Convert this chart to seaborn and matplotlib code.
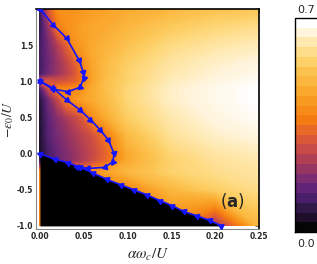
import numpy as np
import matplotlib
matplotlib.use('Agg')
import matplotlib.pyplot as plt
import seaborn as sns
import pandas as pd
from matplotlib.colors import ListedColormap, LinearSegmentedColormap, Normalize
from matplotlib.cm import ScalarMappable

# heat map values (0 .. 0.7)
x_grid = [0.0, 0.01, 0.02, 0.03, 0.04, 0.05, 0.06, 0.075, 0.1, 0.15, 0.2, 0.25]
y_grid = [-1.0, -0.5, -0.25, -0.1, 0.0, 0.25, 0.5, 0.75, 0.9, 1.0, 1.1, 1.25, 1.5, 1.75, 2.0]
z_rows = [
    [0.38, 0.38, 0.38, 0.38, 0.38, 0.38, 0.38, 0.38, 0.38, 0.38, 0.20, 0.50],  # -1.0
    [0.38, 0.38, 0.38, 0.38, 0.38, 0.38, 0.38, 0.38, 0.38, 0.50, 0.56, 0.60],  # -0.5
    [0.38, 0.38, 0.38, 0.38, 0.38, 0.38, 0.40, 0.45, 0.50, 0.57, 0.60, 0.62],  # -0.25
    [0.08, 0.10, 0.14, 0.17, 0.20, 0.23, 0.27, 0.33, 0.47, 0.57, 0.61, 0.63],  # -0.1
    [0.03, 0.10, 0.14, 0.17, 0.20, 0.23, 0.26, 0.32, 0.47, 0.58, 0.62, 0.64],  # 0.0
    [0.04, 0.12, 0.16, 0.19, 0.22, 0.25, 0.28, 0.36, 0.51, 0.61, 0.65, 0.67],  # 0.25
    [0.04, 0.13, 0.18, 0.22, 0.26, 0.31, 0.40, 0.47, 0.56, 0.63, 0.67, 0.69],  # 0.5
    [0.05, 0.16, 0.26, 0.38, 0.42, 0.45, 0.47, 0.51, 0.58, 0.65, 0.68, 0.70],  # 0.75
    [0.10, 0.28, 0.38, 0.39, 0.40, 0.42, 0.47, 0.52, 0.58, 0.65, 0.68, 0.70],  # 0.9
    [0.28, 0.30, 0.28, 0.29, 0.32, 0.37, 0.45, 0.52, 0.57, 0.64, 0.67, 0.69],  # 1.0
    [0.09, 0.16, 0.20, 0.24, 0.29, 0.38, 0.45, 0.51, 0.57, 0.63, 0.66, 0.68],  # 1.1
    [0.09, 0.15, 0.20, 0.25, 0.31, 0.40, 0.46, 0.51, 0.56, 0.62, 0.65, 0.67],  # 1.25
    [0.09, 0.16, 0.23, 0.31, 0.41, 0.44, 0.47, 0.49, 0.53, 0.59, 0.62, 0.64],  # 1.5
    [0.07, 0.20, 0.36, 0.41, 0.43, 0.45, 0.46, 0.47, 0.50, 0.55, 0.58, 0.60],  # 1.75
    [0.07, 0.30, 0.40, 0.42, 0.42, 0.43, 0.44, 0.45, 0.47, 0.50, 0.53, 0.54],  # 2.0
]

# blue curves
upper_x = [0.0, 0.0152, 0.0305, 0.0445, 0.0495, 0.050, 0.0457, 0.0323, 0.0152, 0.0]
upper_y = [2.0, 1.78, 1.595, 1.295, 1.13, 1.04, 0.918, 0.857, 0.89, 1.0]
lower_x = [0.0, 0.0152, 0.0305, 0.0457, 0.0576, 0.0685, 0.078, 0.0845, 0.0834, 0.074, 0.055, 0.042]
lower_y = [1.0, 0.904, 0.742, 0.604, 0.47, 0.33, 0.19, 0.005, -0.11, -0.19, -0.205, -0.18]
bound_x = [0.207, 0.194, 0.179, 0.164, 0.151, 0.137, 0.122, 0.107, 0.092, 0.076, 0.061, 0.046, 0.032, 0.0167, 0.0]
bound_y = [-1.0, -0.925, -0.86, -0.80, -0.72, -0.65, -0.57, -0.50, -0.43, -0.355, -0.27, -0.19, -0.125, -0.077, 0.0]

cb_colors = ['#050505', '#1e0e2a', '#301848', '#4a1e68', '#622476', '#7c2c70',
             '#963462', '#b03e54', '#c84a46', '#da5838', '#e86828', '#f47a12',
             '#f78a18', '#f99a20', '#faa82e', '#fbb63e', '#fcc250', '#fdd068',
             '#fedd8a', '#ffe9b0', '#fff4dc', '#ffffff']

sns.set_style('white')
plt.rcParams['mathtext.fontset'] = 'stix'

smooth_cmap = LinearSegmentedColormap.from_list('sunset', cb_colors)
step_cmap = ListedColormap(cb_colors)
norm = Normalize(0.0, 0.7)

fig = plt.figure(figsize=(3.17, 2.64), dpi=100)
ax = fig.add_axes([0.115, 0.133, 0.702, 0.833])

X, Y = np.meshgrid(x_grid, y_grid)
ax.contourf(X, Y, np.array(z_rows), levels=np.linspace(0.0, 0.7, 141),
            cmap=smooth_cmap, norm=norm, extend='both', antialiased=False,
            zorder=1)

# black region under the lower boundary
ax.fill_between(bound_x, bound_y, -1.0, color='black', lw=0, zorder=2)

ax.set_xlim(-0.004, 0.25)
ax.set_ylim(-1.041, 2.0)

blue = '#1414ff'
curves = [(upper_x, upper_y), (lower_x, lower_y), (bound_x, bound_y)]
for cx, cy in curves:
    df = pd.DataFrame({'x': cx, 'y': cy})
    sns.lineplot(data=df, x='x', y='y', sort=False, estimator=None,
                 color=blue, lw=1.2, ax=ax, zorder=4)
    pts = ax.transData.transform(np.column_stack([cx, cy]))
    for i in range(len(cx)):
        j0, j1 = max(i - 1, 0), min(i + 1, len(cx) - 1)
        d = pts[j1] - pts[j0]
        ang = np.degrees(np.arctan2(d[1], d[0]))
        ax.plot(cx[i], cy[i], marker=(3, 0, ang - 90), ms=4.5, color=blue,
                mec=blue, zorder=5)

ax.text(0.2095, -0.67, '(', fontsize=12, ha='center', va='center', zorder=6)
ax.text(0.2195, -0.67, 'a', fontsize=12, fontweight='bold', ha='center',
        va='center', zorder=6)
ax.text(0.2295, -0.67, ')', fontsize=12, ha='center', va='center', zorder=6)

ax.set_xlabel(r'$\alpha\omega_c/U$', fontsize=11, labelpad=4)
ax.set_ylabel(r'$-\varepsilon_0/U$', fontsize=10)
ax.yaxis.set_label_coords(-0.09, 0.5)

ax.set_xticks([0.0, 0.05, 0.1, 0.15, 0.2, 0.25])
ax.set_xticklabels(['0.00', '0.05', '0.10', '0.15', '0.20', '0.25'])
ax.set_yticks([-1.0, -0.5, 0.0, 0.5, 1.0, 1.5])
ax.set_yticklabels(['-1.0', '-0.5', '0.0', '0.5', '1.0', '1.5'])
ax.set_xticks(np.arange(0.0, 0.251, 0.01), minor=True)
ax.set_yticks(np.arange(-1.0, 2.01, 0.1), minor=True)
ax.tick_params(which='both', direction='in', top=True, right=True,
               color='#555555', labelsize=5.5, pad=2.5)
ax.tick_params(which='major', length=3, width=0.6)
ax.tick_params(which='minor', length=1.5, width=0.5)
for lab in ax.get_xticklabels() + ax.get_yticklabels():
    lab.set_fontweight('bold')

for side in ['left', 'bottom']:
    ax.spines[side].set_color('#888888')
    ax.spines[side].set_linewidth(0.8)
for side in ['top', 'right']:
    ax.spines[side].set_color('black')
    ax.spines[side].set_linewidth(1.2)

# stepped colour bar, cut by the right edge
cax = fig.add_axes([0.931, 0.121, 0.2, 0.811])
fig.colorbar(ScalarMappable(norm=norm, cmap=step_cmap), cax=cax)
cax.set_yticks([])
cax.set_xticks([])
for s in cax.spines.values():
    s.set_color('black')
    s.set_linewidth(1.0)
fig.text(0.965, 0.945, '0.7', fontsize=8, ha='center', va='bottom')
fig.text(0.965, 0.095, '0.0', fontsize=8, ha='center', va='top')

fig.savefig('out.png', dpi=100)
